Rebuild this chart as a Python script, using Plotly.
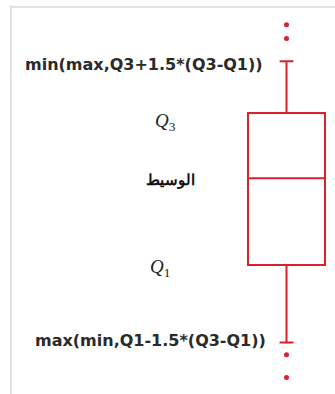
import plotly.graph_objects as go

# Box-plot summary statistics (schematic values)
q1 = 4.0
median = 9.7
q3 = 14.0
lower_fence = -1.1
upper_fence = 17.4
outliers = [19.8, 18.9, -1.9, -3.4]

# Label texts
upper_label = "min(max,Q3+1.5*(Q3-Q1))"
lower_label = "max(min,Q1-1.5*(Q3-Q1))"
q3_label = "<i>Q</i><sub>3</sub>"
q1_label = "<i>Q</i><sub>1</sub>"
median_label = "الوسيط"

RED = "#d8232f"
W, H = 335, 394

fig = go.Figure()

fig.add_trace(go.Box(
    x=[0],
    q1=[q1], median=[median], q3=[q3],
    lowerfence=[lower_fence], upperfence=[upper_fence],
    width=1,
    whiskerwidth=0.18,
    line=dict(color=RED, width=2),
    fillcolor="rgba(255,255,255,0)",
    boxpoints=False,
    hoverinfo="skip",
))

fig.add_trace(go.Scatter(
    x=[0] * len(outliers), y=outliers,
    mode="markers",
    marker=dict(color=RED, size=5),
    hoverinfo="skip",
))

# y scale: 15.2 px per unit, q1 at pixel row 265
px_per_unit = 15.2
y_top = q1 + 265 / px_per_unit
y_bot = q1 - (H - 265) / px_per_unit

fig.update_layout(
    width=W, height=H,
    margin=dict(l=0, r=0, t=0, b=0),
    paper_bgcolor="white", plot_bgcolor="white",
    showlegend=False,
    xaxis=dict(range=[-286.5 / 77, (W - 286.5) / 77], visible=False, fixedrange=True),
    yaxis=dict(range=[y_bot, y_top], visible=False, fixedrange=True),
    shapes=[
        dict(type="line", xref="paper", yref="paper",
             x0=10 / W, x1=1, y0=1 - 7 / H, y1=1 - 7 / H,
             line=dict(color="#e2e2e2", width=2)),
        dict(type="line", xref="paper", yref="paper",
             x0=11 / W, x1=11 / W, y0=0, y1=1 - 5 / H,
             line=dict(color="#e2e2e2", width=2)),
    ],
)

fmt_font = dict(family="DejaVu Sans", size=16, color="#2a2a2a", weight="bold")
math_font = dict(family="Liberation Serif", size=19, color="#222222")

fig.add_annotation(x=265 / W, xref="paper", y=upper_fence, yref="y",
                   text=upper_label, showarrow=False, xanchor="right",
                   yanchor="middle", font=fmt_font, yshift=-3)
fig.add_annotation(x=268 / W, xref="paper", y=lower_fence, yref="y",
                   text=lower_label, showarrow=False, xanchor="right",
                   yanchor="middle", font=fmt_font, yshift=2)
fig.add_annotation(x=165 / W, xref="paper", y=q3, yref="y",
                   text=q3_label, showarrow=False, xanchor="center",
                   yanchor="middle", font=math_font, yshift=-9)
fig.add_annotation(x=160 / W, xref="paper", y=q1, yref="y",
                   text=q1_label, showarrow=False, xanchor="center",
                   yanchor="middle", font=math_font, yshift=-3)
fig.add_annotation(x=170 / W, xref="paper", y=median, yref="y",
                   text=median_label, showarrow=False, xanchor="center",
                   yanchor="middle",
                   font=dict(family="DejaVu Serif", size=15, color="#111111", weight="bold"),
                   yshift=-2)

fig.write_html("out.html")
